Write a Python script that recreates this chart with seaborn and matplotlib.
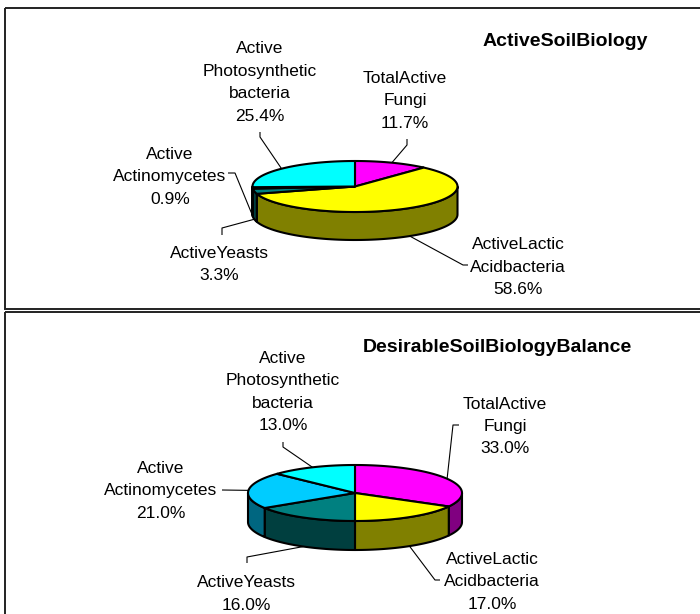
import numpy as np
import matplotlib
matplotlib.use("Agg")
import matplotlib.pyplot as plt
from matplotlib.patches import Polygon, Rectangle
import seaborn as sns

# ---------------- data ----------------
categories = ["TotalActive\nFungi", "ActiveLactic\nAcidbacteria", "ActiveYeasts",
              "Active\nActinomycetes", "Active\nPhotosynthetic\nbacteria"]
active_values = [11.7, 58.6, 3.3, 0.9, 25.4]
desirable_values = [33.0, 17.0, 16.0, 21.0, 13.0]
titles = ["ActiveSoilBiology", "DesirableSoilBiologyBalance"]

# ---------------- styles ----------------
top_colors = ["#FF00FF", "#FFFF00", "#008080", "#00CCFF", "#00FFFF"]
side_colors = ["#800080", "#808000", "#003F3F", "#006680", "#008080"]

sns.set_theme(style="white")
plt.rcParams['font.family'] = ['Liberation Sans', 'DejaVu Sans']

fig = plt.figure(figsize=(7.0, 6.14), dpi=100)
ax = fig.add_axes([0, 0, 1, 1])
ax.set_xlim(0, 700)
ax.set_ylim(614, 0)
ax.axis('off')

# panel frames
ax.add_patch(Rectangle((4.5, 8), 720, 301, fill=False, ec="#222222", lw=1.4, clip_on=True))
ax.add_patch(Rectangle((4.5, 312), 720, 320, fill=False, ec="#222222", lw=1.4, clip_on=True))

# layout per panel
panels = [
    dict(values=active_values, title=titles[0], title_pos=(565, 42),
         cx=355, cy=186.5, rx=102.5, ry=25.5, depth=28,
         label_pos=[(405, 101), (518, 267), (219, 264.5), (170, 177), (260, 82.5)],
         leaders=[[(407, 139), (407, 145)], [(468, 265), (463, 265)],
                  [(222, 235), (222, 228)], [(228, 173), (235, 173)],
                  [(260, 132), (260, 137)]]),
    dict(values=desirable_values, title=titles[1], title_pos=(497, 347),
         cx=355, cy=493, rx=107, ry=28, depth=29,
         label_pos=[(505, 426.5), (492, 582), (246, 594), (161, 491), (283, 392)],
         leaders=[[(459, 425), (453, 425)], [(440, 580), (435, 580)],
                  [(247, 563), (247, 557)], [(222, 490)],
                  [(283, 442), (283, 447)]]),
]


def ell(cx, cy, rx, ry, phi_deg, dz=0.0):
    p = np.radians(phi_deg)
    return cx + rx * np.cos(p), cy - ry * np.sin(p) + dz


def draw_pie(p):
    vals = np.array(p["values"], dtype=float)
    total = vals.sum()
    cum = np.concatenate([[0], np.cumsum(vals)]) / total
    cx, cy, rx, ry, d = p["cx"], p["cy"], p["rx"], p["ry"], p["depth"]
    th1 = 90 - 360 * cum[:-1]
    th2 = 90 - 360 * cum[1:]
    lw = 1.5
    # side walls (front half: -180..0)
    for i in range(len(vals)):
        lo, hi = max(th2[i], -180), min(th1[i], 0)
        if lo < hi:
            phis = np.linspace(hi, lo, 80)
            xs, ys = ell(cx, cy, rx, ry, phis)
            xb, yb = ell(cx, cy, rx, ry, phis[::-1], d)
            pts = np.column_stack([np.concatenate([xs, xb]), np.concatenate([ys, yb])])
            ax.add_patch(Polygon(pts, closed=True, fc=side_colors[i], ec="black",
                                 lw=lw, joinstyle="round", zorder=2))
    # top faces
    for i in range(len(vals)):
        n = max(4, int(abs(th1[i] - th2[i]) * 2))
        phis = np.linspace(th1[i], th2[i], n)
        xs, ys = ell(cx, cy, rx, ry, phis)
        pts = np.column_stack([np.concatenate([[cx], xs]), np.concatenate([[cy], ys])])
        ax.add_patch(Polygon(pts, closed=True, fc=top_colors[i], ec="black",
                             lw=lw, joinstyle="round", zorder=3))
    # labels and leader lines
    for i in range(len(vals)):
        mid = (th1[i] + th2[i]) / 2
        dz = d if np.sin(np.radians(mid)) < 0 else 0
        ex, ey = ell(cx, cy, rx, ry, mid, dz)
        path = p["leaders"][i] + [(ex, ey)]
        ax.plot([q[0] for q in path], [q[1] for q in path], color="black",
                lw=0.8, zorder=4, solid_capstyle="butt")
        lx, ly = p["label_pos"][i]
        ax.text(lx, ly, f"{categories[i]}\n{vals[i]:.1f}%", ha="center", va="center",
                fontsize=12.5, color="black", linespacing=1.62, zorder=5)
    tx, ty = p["title_pos"]
    ax.text(tx, ty, p["title"], ha="center", va="center", fontsize=14,
            fontweight="bold", color="black")


for p in panels:
    draw_pie(p)

fig.savefig("out.png", dpi=100)
